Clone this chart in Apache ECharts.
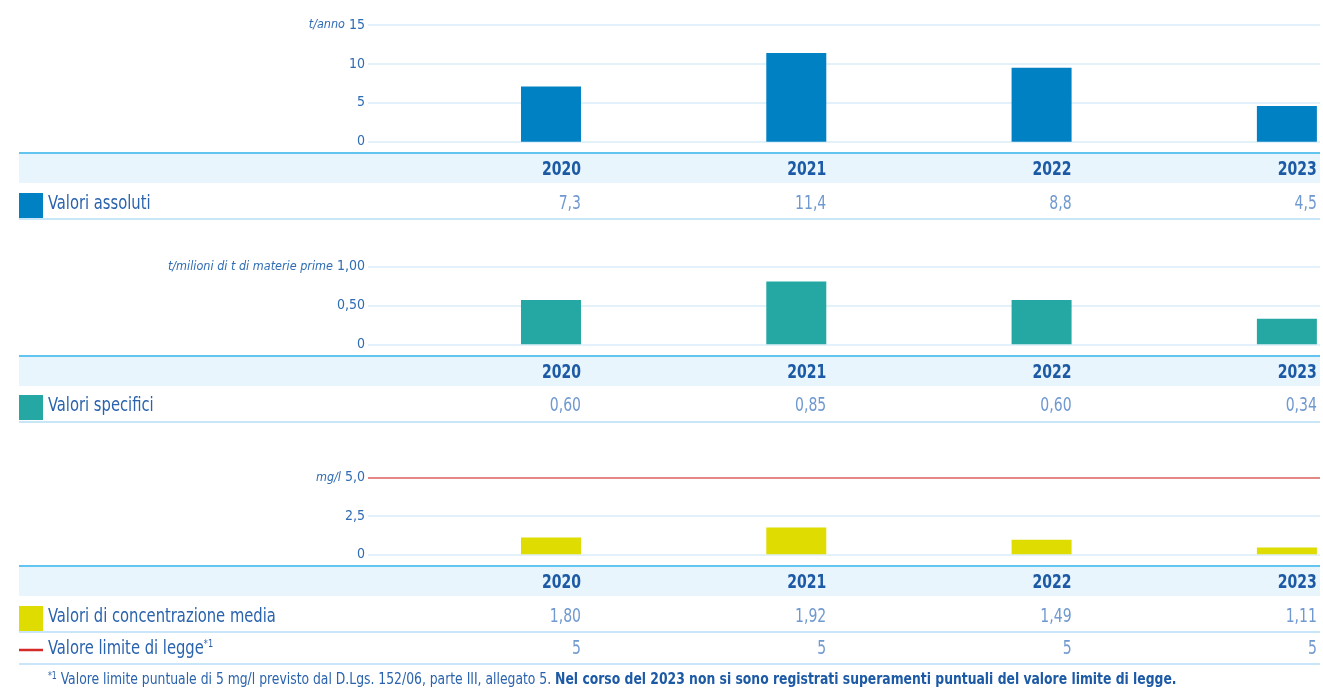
<!DOCTYPE html>
<html>
<head>
<meta charset="utf-8">
<script src="https://cdn.jsdelivr.net/npm/echarts@6/dist/echarts.min.js"></script>
<style>
  html, body { margin: 0; padding: 0; background: #fff; }
  #chart { width: 1323px; height: 691px; }
</style>
</head>
<body>
<div id="chart"></div>
<script>
// anni
const years = [2020, 2021, 2022, 2023];
// altezze delle barre
const barAssoluti = [7.1, 11.4, 9.5, 4.6];
const barSpecifici = [0.57, 0.81, 0.57, 0.33];
const barConcentrazione = [1.1, 1.75, 0.95, 0.45];
const limiteLegge = [5, 5, 5, 5];
// valori della tabella
const tabAssoluti = ['7,3', '11,4', '8,8', '4,5'];
const tabSpecifici = ['0,60', '0,85', '0,60', '0,34'];
const tabConcentrazione = ['1,80', '1,92', '1,49', '1,11'];
const tabLimite = ['5', '5', '5', '5'];

const FONT = '"DejaVu Sans Condensed", "DejaVu Sans", sans-serif';
const blu = '#0081c4', verde = '#25a8a3', giallo = '#dedc00', rosso = '#d42a2a';

function fmt(v, d) {
  return v === 0 ? '0' : v.toFixed(d).replace('.', ',');
}

function yAx(idx, max, step, dec, unit) {
  return {
    type: 'value', gridIndex: idx, min: 0, max: max, interval: step,
    axisLine: { show: false }, axisTick: { show: false },
    splitLine: { lineStyle: { color: '#d9edf9', width: 1.5 } },
    axisLabel: {
      margin: 3, color: '#2f6cb3', fontFamily: FONT, fontSize: 14,
      formatter: v => v === max ? '{u|' + unit + '} ' + fmt(v, dec) : fmt(v, dec),
      rich: { u: { fontStyle: 'italic', color: '#2f6cb3', fontFamily: FONT, fontSize: 12.5 } }
    }
  };
}

function xAx(idx) {
  return { type: 'value', gridIndex: idx, min: 2019.254, max: 2023.135, show: false };
}

const grids = [
  { left: 368, right: 3, top: 25, height: 116.7 },
  { left: 368, right: 3, top: 266.7, height: 77.6 },
  { left: 368, right: 3, top: 477.7, height: 76.6 }
];

function barSerie(idx, vals, color) {
  return {
    type: 'bar', xAxisIndex: idx, yAxisIndex: idx, barWidth: 60, silent: true,
    itemStyle: { color: color },
    data: years.map((y, i) => [y, vals[i]])
  };
}

const chart = echarts.init(document.getElementById('chart'));
const concSerie = barSerie(2, barConcentrazione, giallo);
concSerie.markLine = {
  silent: true, symbol: 'none', label: { show: false },
  lineStyle: { color: '#e38884', width: 2, type: 'solid' },
  data: [{ yAxis: limiteLegge[0] }]
};

chart.setOption({
  animation: false,
  grid: grids,
  xAxis: [xAx(0), xAx(1), xAx(2)],
  yAxis: [
    yAx(0, 15, 5, 0, 't/anno'),
    yAx(1, 1, 0.5, 2, 't/milioni di t di materie prime'),
    yAx(2, 5, 2.5, 1, 'mg/l')
  ],
  series: [
    barSerie(0, barAssoluti, blu),
    barSerie(1, barSpecifici, verde),
    concSerie
  ]
});

// tabella sotto ogni grafico
const els = [];
function hline(y, color, w) {
  els.push({ type: 'line', shape: { x1: 19, y1: y, x2: 1320, y2: y }, style: { stroke: color, lineWidth: w }, silent: true });
}
function header(idx, top) {
  els.push({ type: 'rect', shape: { x: 19, y: top, width: 1301, height: 30 }, style: { fill: '#e8f5fc' }, silent: true });
  hline(top, '#62c5ef', 2);
  years.forEach(y => {
    const px = chart.convertToPixel({ xAxisIndex: idx }, y) + 30;
    els.push({ type: 'text', x: px, y: top + 17, scaleX: 0.78, silent: true,
      style: { text: String(y), align: 'right', verticalAlign: 'middle', fill: '#1d5aa6',
        fontFamily: FONT, fontWeight: 'bold', fontSize: 20 } });
  });
}
function row(idx, cy, lineY, label, vals, marker) {
  if (marker.type === 'box') {
    els.push({ type: 'rect', shape: { x: 19, y: cy - 11, width: 24, height: 25 }, style: { fill: marker.color }, silent: true });
  } else {
    els.push({ type: 'line', shape: { x1: 19, y1: cy + 1, x2: 43, y2: cy + 1 }, style: { stroke: marker.color, lineWidth: 2.5 }, silent: true });
  }
  els.push({ type: 'text', x: 48, y: cy, scaleX: 0.82, silent: true,
    style: { text: label, verticalAlign: 'middle', fill: '#2a63ad', fontFamily: FONT, fontSize: 20,
      rich: { s: { fontSize: 11, verticalAlign: 'top', fill: '#2a63ad', fontFamily: FONT, padding: [0, 0, 8, 0] } } } });
  years.forEach((y, i) => {
    const px = chart.convertToPixel({ xAxisIndex: idx }, y) + 30;
    els.push({ type: 'text', x: px, y: cy, scaleX: 0.78, silent: true,
      style: { text: vals[i], align: 'right', verticalAlign: 'middle', fill: '#7099cf', fontFamily: FONT, fontSize: 20 } });
  });
  hline(lineY, '#c8e6f7', 2);
}

header(0, 153);
row(0, 204, 219, 'Valori assoluti', tabAssoluti, { type: 'box', color: blu });
header(1, 356);
row(1, 406, 422, 'Valori specifici', tabSpecifici, { type: 'box', color: verde });
header(2, 566);
row(2, 617, 632, 'Valori di concentrazione media', tabConcentrazione, { type: 'box', color: giallo });
row(2, 649, 664, 'Valore limite di legge{s|*1}', tabLimite, { type: 'line', color: rosso });

els.push({ type: 'text', x: 48, y: 680, scaleX: 0.86, silent: true,
  style: {
    text: '{s|*1} Valore limite puntuale di 5 mg/l previsto dal D.Lgs. 152/06, parte III, allegato 5. {b|Nel corso del 2023 non si sono registrati superamenti puntuali del valore limite di legge.}',
    verticalAlign: 'middle', fill: '#2a63ad', fontFamily: FONT, fontSize: 16,
    rich: {
      s: { fontSize: 10, fill: '#2a63ad', fontFamily: FONT, padding: [0, 0, 7, 0] },
      b: { fontSize: 16, fontWeight: 'bold', fill: '#1d5aa6', fontFamily: FONT }
    }
  } });

chart.setOption({ graphic: { elements: els } });
window.addEventListener('resize', () => chart.resize());
</script>
</body>
</html>
